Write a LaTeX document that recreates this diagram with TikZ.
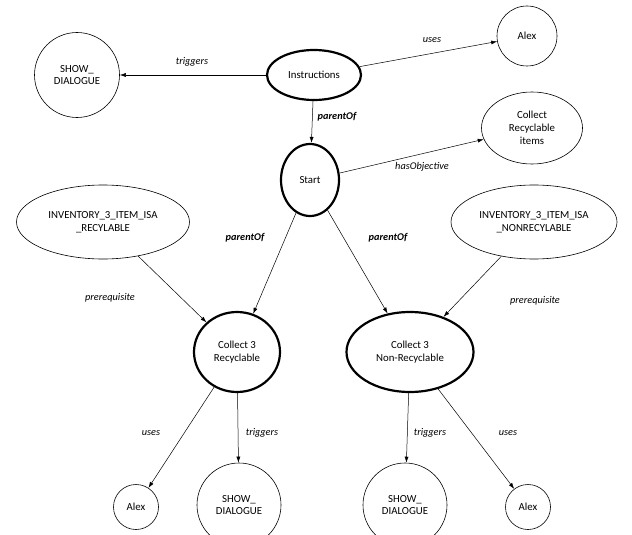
\documentclass[tikz,border=0pt]{standalone}
\usepackage{fontspec}
\setmainfont{Carlito}
\usetikzlibrary{shapes.geometric,arrows.meta}
\tikzset{
  ell/.style={draw, ellipse, inner sep=0pt, align=center, font=\fontsize{10.8}{12.8}\selectfont, line width=0.6pt},
  circ/.style={draw, circle, inner sep=0pt, align=center, font=\fontsize{10.8}{12.8}\selectfont, line width=0.6pt},
  thick ell/.style={ell, line width=2.2pt},
  conn/.style={-{Latex[length=6pt,width=4pt]}, line width=0.5pt},
  lab/.style={font=\fontsize{10.3}{12}\selectfont\itshape, inner sep=1pt},
  blab/.style={font=\fontsize{10.3}{12}\selectfont\bfseries\itshape, inner sep=1pt}
}
\begin{document}
\begin{tikzpicture}[x=1pt,y=-1pt]
\useasboundingbox (0,0) rectangle (632,535);
% nodes
\node[circ, minimum size=85pt] (sd1) at (77,75) {SHOW\_\\DIALOGUE};
\node[thick ell, minimum width=94pt, minimum height=50pt] (ins) at (314,75) {Instructions};
\node[circ, minimum size=60pt] (alex1) at (527,36) {Alex};
\node[thick ell, minimum width=58pt, minimum height=72pt] (start) at (310,180) {Start};
\node[ell, minimum width=101pt, minimum height=72pt] (obj) at (532,128) {Collect\\Recyclable\\items};
\node[ell, minimum width=173pt, minimum height=74pt] (invl) at (103,222) {INVENTORY\_3\_ITEM\_ISA\\\_RECYLABLE};
\node[ell, minimum width=166pt, minimum height=74pt] (invr) at (534,222) {INVENTORY\_3\_ITEM\_ISA\\\_NONRECYLABLE};
\node[thick ell, minimum width=86pt, minimum height=80pt] (c3r) at (237,352) {Collect 3\\Recyclable};
\node[thick ell, minimum width=127pt, minimum height=80pt] (c3n) at (410,352) {Collect 3\\Non-Recyclable};
\node[circ, minimum size=45pt] (alex2) at (136,507) {Alex};
\node[circ, minimum size=84pt] (sd2) at (239,505) {SHOW\_\\DIALOGUE};
\node[circ, minimum size=84pt] (sd3) at (405,505) {SHOW\_\\DIALOGUE};
\node[circ, minimum size=45pt] (alex3) at (528,507) {Alex};
% connectors
\draw[conn] (ins) -- (sd1);
\draw[conn] (ins) -- (alex1);
\draw[conn] (ins) -- (start);
\draw[conn] (start) -- (obj);
\draw[conn] (start) -- (c3r);
\draw[conn] (start) -- (c3n);
\draw[conn] (invl) -- (c3r);
\draw[conn] (invr) -- (c3n);
\draw[conn] (c3r) -- (alex2);
\draw[conn] (c3r) -- (sd2);
\draw[conn] (c3n) -- (sd3);
\draw[conn] (c3n) -- (alex3);
% labels
\node[lab] (l1) at (192,62) {triggers};
\node[lab] (l2) at (432,40) {uses};
\node[blab] (l3) at (337,117) {parentOf};
\node[lab] (l4) at (422,167) {hasObjective};
\node[blab] (l5) at (245,238) {parentOf};
\node[blab] (l6) at (388,238) {parentOf};
\node[lab] (l7) at (110,298) {prerequisite};
\node[lab] (l8) at (535,301) {prerequisite};
\node[lab] (l9) at (151,433) {uses};
\node[lab] (l10) at (262,433) {triggers};
\node[lab] (l11) at (430,433) {triggers};
\node[lab] (l12) at (508,433) {uses};
\end{tikzpicture}
\end{document}
